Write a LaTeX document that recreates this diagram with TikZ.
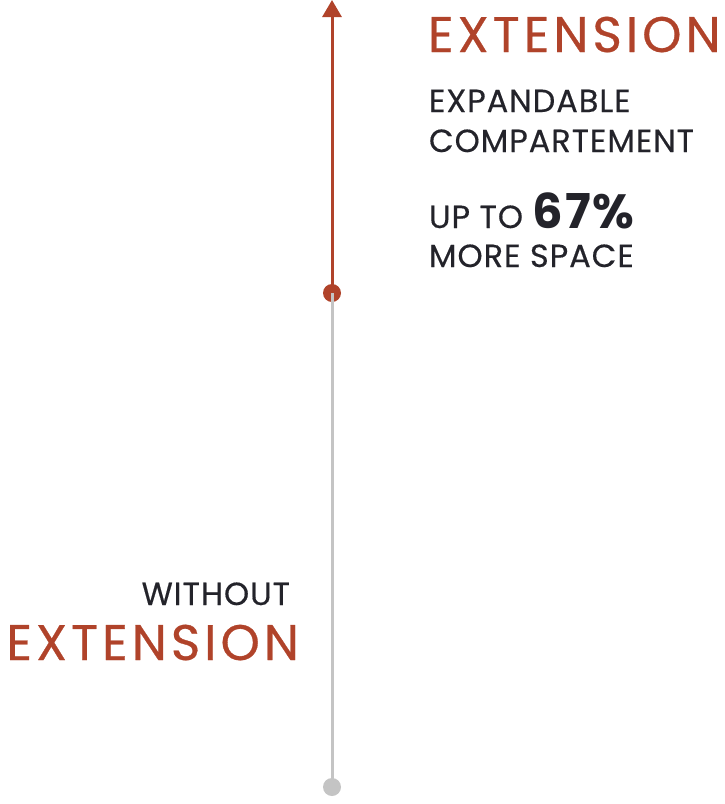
\documentclass[tikz,border=0pt]{standalone}
\usepackage{fontspec}
\setmainfont{Poppins}
\newfontfamily\bigfont[LetterSpace=8,FakeBold=0.6]{Poppins}
\newfontfamily\smallfont[LetterSpace=3,FakeBold=0.4]{Poppins}
\newfontfamily\numfont[LetterSpace=4]{Poppins}
\usetikzlibrary{arrows.meta}
\definecolor{rust}{HTML}{B0432A}
\definecolor{ink}{HTML}{23232A}
\definecolor{lgray}{HTML}{C4C4C4}
\begin{document}
\begin{tikzpicture}[x=1pt,y=-1pt,
  txt/.style={inner sep=0pt, outer sep=0pt, text=ink},
  big/.style={txt, text=rust, font=\bigfont\fontsize{50}{50}\selectfont},
  small/.style={txt, font=\smallfont\fontsize{32}{32}\selectfont},
  dot/.style={circle, inner sep=0pt, minimum size=18pt}]
\useasboundingbox (0,0) rectangle (724,804);
\coordinate (tip) at (332,0);
\node[dot, fill=rust] (mid) at (332,293) {};
\node[dot, fill=lgray] (bot) at (332,787) {};
\draw[lgray, line width=3pt] (mid.center) -- (bot.center);
\draw[rust, line width=3pt, -{Triangle[width=19pt,length=17pt]}] (mid.center) -- (tip);
\node[big, anchor=base west] (ext1) at (428,52) {EXTENSION};
\node[small, anchor=base west] (exp) at (429,112) {EXPANDABLE};
\node[small, anchor=base west] (comp) at (429,152) {COMPARTEMENT};
\node[small, anchor=base west] (up) at (429,228) {UP TO {\numfont\fontsize{48}{48}\selectfont\bfseries 67\%}};
\node[small, anchor=base west] (more) at (429,267) {MORE SPACE};
\node[small, anchor=base east] (with) at (290,605) {WITHOUT};
\node[big, anchor=base east] (ext2) at (299,660) {EXTENSION};
\end{tikzpicture}
\end{document}
